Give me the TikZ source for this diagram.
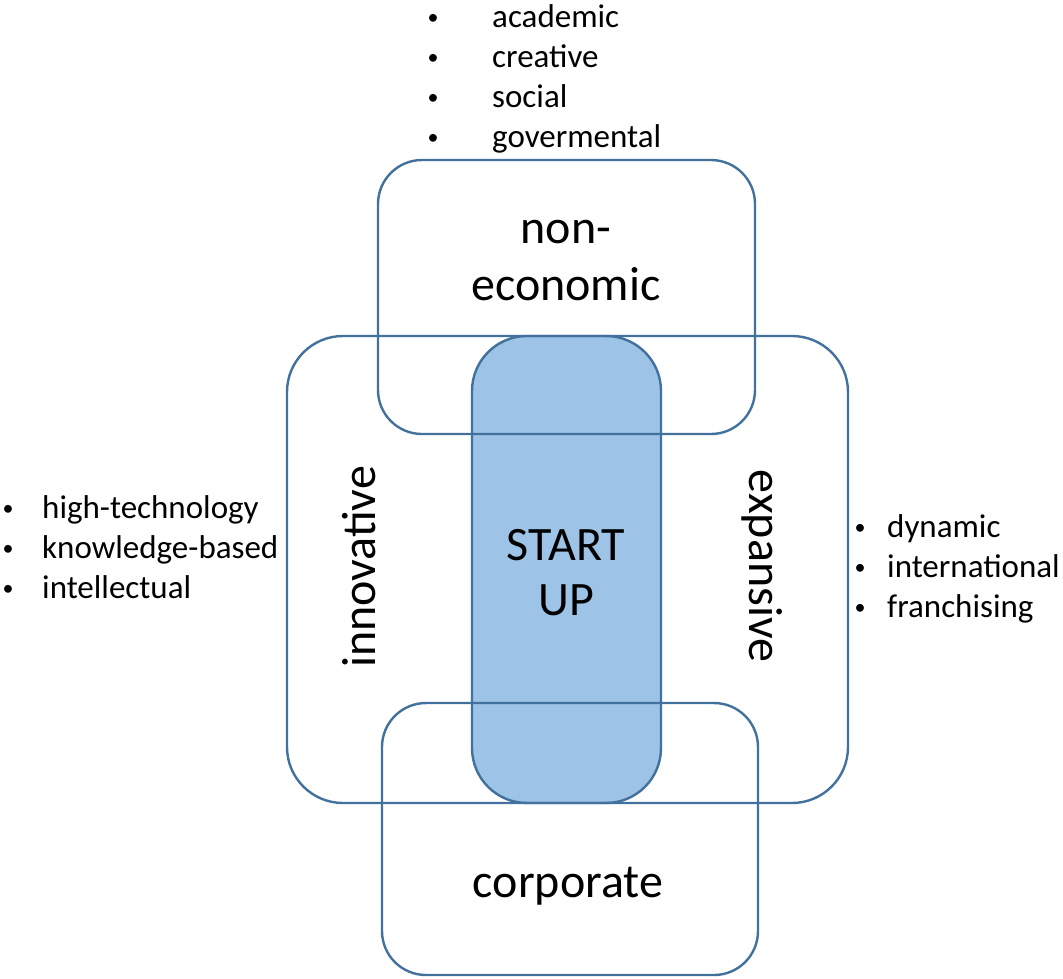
\documentclass[tikz,border=0pt]{standalone}
\usepackage{fontspec}
\setmainfont{Carlito}
\definecolor{edge}{HTML}{41719C}
\definecolor{sfill}{HTML}{9DC3E6}
\begin{document}
\begin{tikzpicture}[x=1pt,y=-1pt,
  box/.style={draw=edge,line width=2.4pt,inner sep=0pt,outer sep=0pt,rectangle},
  big/.style={font=\fontsize{48}{57}\selectfont,inner sep=0pt,anchor=base},
  item/.style={font=\fontsize{33}{40}\selectfont,inner sep=0pt,anchor=base west},
  dot/.style={font=\fontsize{22}{26}\selectfont,inner sep=0pt,anchor=center,yshift=8pt}]
\useasboundingbox (0,0) rectangle (1063,978);
% filled start-up shape
\node[box,fill=sfill,draw=none,rounded corners=55pt,minimum width=189pt,minimum height=467pt] (sf) at (566.5,569.5) {};
% outlines
\node[box,rounded corners=44pt,minimum width=377pt,minimum height=274pt] (top) at (566.5,297) {};
\node[box,rounded corners=56pt,minimum width=561pt,minimum height=467pt] (mid) at (567.5,569.5) {};
\node[box,rounded corners=55pt,minimum width=189pt,minimum height=467pt] (su) at (566.5,569.5) {};
\node[box,rounded corners=44pt,minimum width=376pt,minimum height=272pt] (bot) at (570,839) {};
% labels
\node[big] (t1) at (566,243) {non-};
\node[big] (t2) at (566,300) {economic};
\node[big] (s1) at (566,560) {START};
\node[big] (s2) at (566,615) {UP};
\node[big] (c1) at (568,897) {corporate};
\node[big,anchor=center,rotate=90] (inn) at (359,567) {innovative};
\node[big,anchor=center,rotate=-90] (exp) at (762,566) {expansive};
% top list
\node[dot] (b1) at (433,27) {•};
\node[item] (a1) at (492,27) {academic};
\node[dot] (b2) at (433,67) {•};
\node[item] (a2) at (492,67) {creative};
\node[dot] (b3) at (433,107) {•};
\node[item] (a3) at (492,107) {social};
\node[dot] (b4) at (433,147) {•};
\node[item] (a4) at (492,147) {govermental};
% left list
\node[dot] (l1) at (8,518) {•};
\node[item] (h1) at (42,518) {high-technology};
\node[dot] (l2) at (8,558) {•};
\node[item] (h2) at (42,558) {knowledge-based};
\node[dot] (l3) at (8,598) {•};
\node[item] (h3) at (42,598) {intellectual};
% right list
\node[dot] (r1) at (860,537) {•};
\node[item] (d1) at (887,537) {dynamic};
\node[dot] (r2) at (860,577) {•};
\node[item] (d2) at (887,577) {international};
\node[dot] (r3) at (860,617) {•};
\node[item] (d3) at (887,617) {franchising};
\end{tikzpicture}
\end{document}
